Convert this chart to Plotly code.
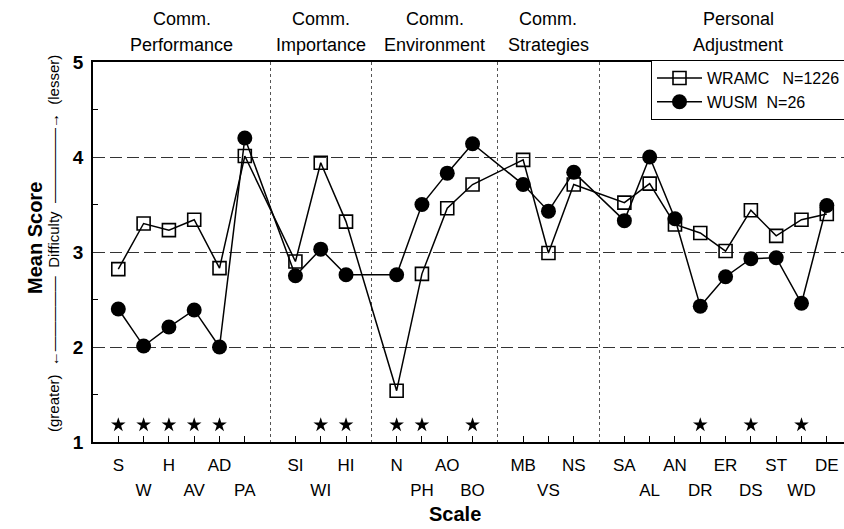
import plotly.graph_objects as go

# ---------------- data ----------------
GROUP_TITLES = [
    ("Comm.", "Performance"),
    ("Comm.", "Importance"),
    ("Comm.", "Environment"),
    ("Comm.", "Strategies"),
    ("Personal", "Adjustment"),
]
GROUP_SCALES = [
    ["S", "W", "H", "AV", "AD", "PA"],
    ["SI", "WI", "HI"],
    ["N", "PH", "AO", "BO"],
    ["MB", "VS", "NS"],
    ["SA", "AL", "AN", "DR", "ER", "DS", "ST", "WD", "DE"],
]
WRAMC = [2.82, 3.30, 3.23, 3.34, 2.83, 4.01,
         2.90, 3.94, 3.32,
         1.54, 2.77, 3.46, 3.71,
         3.97, 2.99, 3.71,
         3.52, 3.72, 3.29, 3.20, 3.01, 3.44, 3.17, 3.34, 3.40]
WUSM = [2.40, 2.01, 2.21, 2.39, 2.00, 4.20,
        2.75, 3.03, 2.76,
        2.76, 3.50, 3.83, 4.14,
        3.71, 3.43, 3.84,
        3.33, 4.00, 3.35, 2.43, 2.74, 2.93, 2.94, 2.46, 3.49]
SIGNIFICANT = ["S", "W", "H", "AV", "AD", "WI", "HI", "N", "PH", "BO", "DR", "DS", "WD"]
STAR_LEVEL = 1.18
Y_TICKS = [1, 2, 3, 4, 5]
SERIES_NAMES = ["WRAMC\u00a0\u00a0\u00a0N=1226", "WUSM\u00a0\u00a0N=26"]

FONT = "Liberation Sans, Arial, Helvetica, sans-serif"

# ---------------- positions (derived) ----------------
labels, xpos, seps, row1, row2 = [], [], [], [], []
x = 0
for gi, scales in enumerate(GROUP_SCALES):
    if gi > 0:
        seps.append(x)
        x += 1
    for j, s in enumerate(scales):
        labels.append(s)
        xpos.append(x)
        row1.append(s if j % 2 == 0 else "")
        row2.append(s if j % 2 == 1 else "")
        x += 1
X_MIN = -1
X_MAX = xpos[-1] + 0.68
bounds = [X_MIN] + seps + [xpos[-1] + 2]

star_x = [xpos[labels.index(s)] for s in SIGNIFICANT]

fig = go.Figure()
fig.add_trace(go.Scatter(
    x=xpos, y=WRAMC, name=SERIES_NAMES[0], mode="lines+markers",
    line=dict(color="black", width=1.5),
    marker=dict(symbol="square-open", size=13, color="black", line=dict(width=1.6, color="black")),
))
fig.add_trace(go.Scatter(
    x=xpos, y=WUSM, name=SERIES_NAMES[1], mode="lines+markers",
    line=dict(color="black", width=1.5),
    marker=dict(symbol="circle", size=15, color="black"),
))
fig.add_trace(go.Scatter(
    x=star_x, y=[STAR_LEVEL] * len(star_x), mode="markers", showlegend=False,
    marker=dict(symbol="star", size=11, color="black"), xaxis="x2",
))

annotations = []
for gi, (t1, t2) in enumerate(GROUP_TITLES):
    cx = (bounds[gi] + bounds[gi + 1]) / 2
    annotations.append(dict(x=cx, xref="x", y=(442 - 19) / 380, yref="paper", text=t1,
                            showarrow=False, font=dict(size=18, family=FONT, color="black"),
                            xanchor="center", yanchor="middle"))
    annotations.append(dict(x=cx, xref="x", y=(442 - 45) / 380, yref="paper", text=t2,
                            showarrow=False, font=dict(size=18, family=FONT, color="black"),
                            xanchor="center", yanchor="middle"))

annotations.append(dict(x=(35 - 93) / 751, xref="paper", y=(442 - 238) / 380, yref="paper",
                        text="<b>Mean Score</b>", textangle=-90, showarrow=False,
                        font=dict(size=20, family=FONT, color="black"),
                        xanchor="center", yanchor="middle"))
annotations.append(dict(x=(53 - 93) / 751, xref="paper", y=(442 - 244) / 380, yref="paper",
                        text="(greater)  \u2190\u2014\u2014\u2014\u2014\u2014  Difficulty  \u2014\u2014\u2014\u2014\u2014\u2192  (lesser)",
                        textangle=-90, showarrow=False,
                        font=dict(size=15, family=FONT, color="black"),
                        xanchor="center", yanchor="middle"))
annotations.append(dict(x=(455 - 93) / 751, xref="paper", y=(442 - 514) / 380, yref="paper",
                        text="<b>Scale</b>", showarrow=False,
                        font=dict(size=20, family=FONT, color="black"),
                        xanchor="center", yanchor="middle"))

fig.update_layout(
    width=844, height=529,
    margin=dict(l=93, r=0, t=62, b=87, autoexpand=False),
    paper_bgcolor="white", plot_bgcolor="white",
    font=dict(family=FONT, color="black"),
    showlegend=True,
    legend=dict(x=(651 - 93) / 751, xanchor="left", y=1.005, yanchor="top",
                bordercolor="black", borderwidth=1, bgcolor="white",
                font=dict(size=16, family=FONT, color="black"),
                tracegroupgap=0, itemwidth=45),
    xaxis=dict(
        range=[X_MIN, X_MAX], tickmode="array", tickvals=xpos, ticktext=row1,
        ticks="inside", ticklen=6, tickwidth=1, tickcolor="black",
        showline=True, linecolor="black", linewidth=1.5, mirror=True,
        showgrid=False, zeroline=False, automargin=False,
        tickfont=dict(size=17, family=FONT, color="black"),
        ticklabelstandoff=7,
        minor=dict(tickvals=seps, showgrid=True, gridcolor="#555",
                   griddash="dot", gridwidth=1, ticks=""),
    ),
    xaxis2=dict(
        overlaying="x", anchor="y", side="bottom",
        range=[X_MIN, X_MAX], tickmode="array", tickvals=xpos, ticktext=row2,
        ticks="", showline=False, showgrid=False, zeroline=False, automargin=False,
        tickfont=dict(size=17, family=FONT, color="black"),
        ticklabelstandoff=36,
    ),
    yaxis=dict(
        range=[1, 5], tickmode="array", tickvals=Y_TICKS,
        ticktext=[str(v) for v in Y_TICKS], ticks="",
        showline=True, linecolor="black", linewidth=1.5,
        showgrid=True, gridcolor="#333", griddash="12px,5px", gridwidth=1,
        zeroline=False, automargin=False,
        tickfont=dict(size=19, family=FONT, color="black", weight="bold"),
        ticklabelstandoff=4,
        minor=dict(tickvals=[1.5, 2.5, 3.5, 4.5], ticks="inside", ticklen=5,
                   tickcolor="black", showgrid=False),
    ),
    annotations=annotations,
)

fig.write_html("out.html", config={"displayModeBar": False},
               post_script="document.body.style.margin='0';document.body.style.overflow='hidden';")
